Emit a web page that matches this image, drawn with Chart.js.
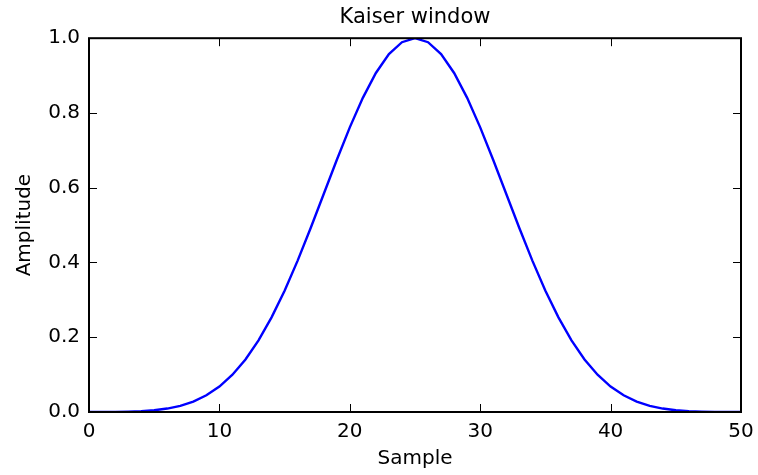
<!DOCTYPE html>
<html>
<head>
<meta charset="utf-8">
<script src="https://cdn.jsdelivr.net/npm/chart.js@4"></script>
<style>
  html, body { margin: 0; padding: 0; background: #fff; }
  #wrap { width: 758px; height: 475px; }
</style>
</head>
<body>
<div id="wrap"><canvas id="c" width="758" height="475"></canvas></div>
<script>
// Kaiser window, 51 samples
const samples = Array.from({ length: 51 }, (_, i) => i);
const amplitude = [
  0.0000, 0.0001, 0.0003, 0.0009, 0.0022, 0.0048, 0.0092, 0.0165, 0.0280, 0.0446,
  0.0681, 0.0997, 0.1407, 0.1917, 0.2532, 0.3246, 0.4050, 0.4922, 0.5831, 0.6741,
  0.7614, 0.8404, 0.9070, 0.9576, 0.9893, 1.0000, 0.9893, 0.9576, 0.9070, 0.8404,
  0.7614, 0.6741, 0.5831, 0.4922, 0.4050, 0.3246, 0.2532, 0.1917, 0.1407, 0.0997,
  0.0681, 0.0446, 0.0280, 0.0165, 0.0092, 0.0048, 0.0022, 0.0009, 0.0003, 0.0001,
  0.0000,
];
const xTicks = [0, 10, 20, 30, 40, 50];
const yTicks = [0.0, 0.2, 0.4, 0.6, 0.8, 1.0];

const FONT = "'DejaVu Sans', sans-serif";

// matplotlib classic frame: black box with inward ticks on all four sides
const frame = {
  id: 'frame',
  afterDraw(chart) {
    const { ctx, chartArea: a, scales } = chart;
    const len = 8;
    ctx.save();
    ctx.strokeStyle = '#000';
    ctx.lineWidth = 1;
    ctx.beginPath();
    xTicks.forEach((v) => {
      const px = Math.round(scales.x.getPixelForValue(v)) + 0.5;
      ctx.moveTo(px, a.bottom); ctx.lineTo(px, a.bottom - len);
      ctx.moveTo(px, a.top); ctx.lineTo(px, a.top + len);
    });
    yTicks.forEach((v) => {
      const py = Math.round(scales.y.getPixelForValue(v)) + 0.5;
      ctx.moveTo(a.left, py); ctx.lineTo(a.left + len, py);
      ctx.moveTo(a.right, py); ctx.lineTo(a.right - len, py);
    });
    ctx.stroke();
    ctx.lineWidth = 2;
    ctx.strokeRect(a.left, a.top, a.right - a.left, a.bottom - a.top);
    ctx.restore();
  },
};

new Chart(document.getElementById('c'), {
  type: 'line',
  data: {
    labels: samples,
    datasets: [{
      data: samples.map((s, i) => ({ x: s, y: amplitude[i] })),
      borderColor: '#0000ff',
      borderWidth: 2.4,
      pointRadius: 0,
      tension: 0,
      fill: false,
    }],
  },
  options: {
    responsive: false,
    animation: false,
    layout: { padding: { left: 0, right: 17, top: 0, bottom: 0 } },
    plugins: {
      legend: { display: false },
      tooltip: { enabled: false },
      title: {
        display: true,
        fullSize: false,
        text: 'Kaiser window',
        color: '#000',
        font: { family: FONT, size: 21, weight: 'normal' },
        padding: { top: 5, bottom: 8 },
      },
    },
    scales: {
      x: {
        type: 'linear',
        min: 0,
        max: 50,
        afterBuildTicks: (s) => { s.ticks = xTicks.map((v) => ({ value: v })); },
        grid: { display: false, drawTicks: false },
        border: { display: false },
        ticks: { color: '#000', font: { family: FONT, size: 20 }, padding: 8, maxRotation: 0 },
        title: {
          display: true,
          text: 'Sample',
          color: '#000',
          font: { family: FONT, size: 20 },
          padding: { top: 2, bottom: 4 },
        },
        afterFit: (s) => {
          s.height = 63;
          s.paddingLeft = 0;
          s.paddingRight = 0;
        },
      },
      y: {
        min: 0,
        max: 1,
        afterBuildTicks: (s) => { s.ticks = yTicks.map((v) => ({ value: v })); },
        grid: { display: false, drawTicks: false },
        border: { display: false },
        ticks: {
          color: '#000',
          font: { family: FONT, size: 20 },
          padding: 9,
          callback: (v) => v.toFixed(1),
        },
        title: {
          display: true,
          text: 'Amplitude',
          color: '#000',
          font: { family: FONT, size: 20 },
          padding: { top: 13, bottom: 4 },
        },
        afterFit: (s) => {
          s.width = 89;
          s.paddingTop = 0;
          s.paddingBottom = 0;
        },
      },
    },
  },
  plugins: [frame],
});
</script>
</body>
</html>
